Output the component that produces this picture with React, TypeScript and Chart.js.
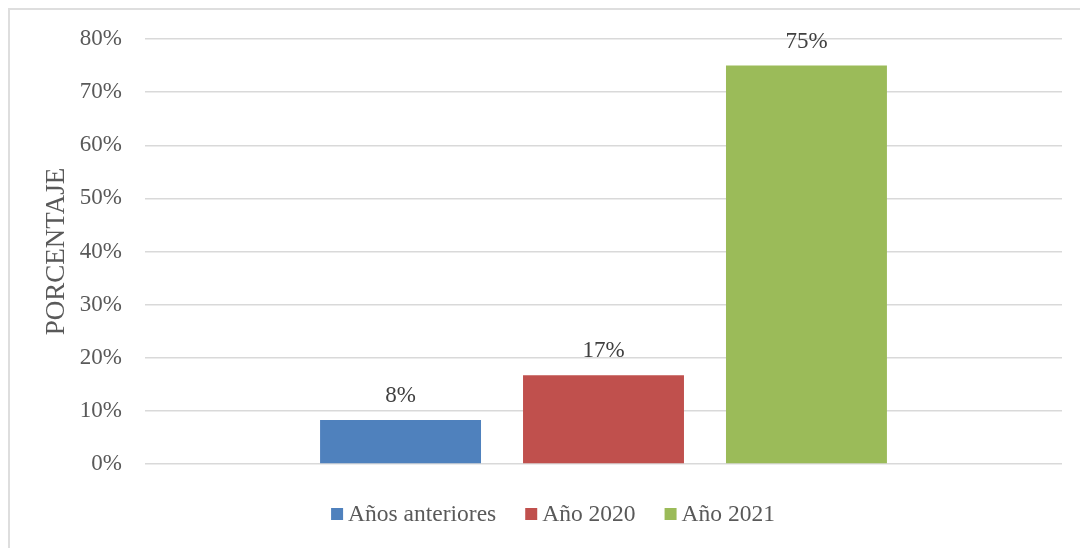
import React, { useEffect, useRef } from "react";
import { Chart, registerables } from "chart.js";

Chart.register(...registerables);

const categories: string[] = [""];
const seriesNames: string[] = ["Años anteriores", "Año 2020", "Año 2021"];
const seriesValues: number[][] = [[8.3], [16.7], [75.0]];
const seriesColors: string[] = ["#4F81BD", "#C0504D", "#9BBB59"];
const yTicks = { min: 0, max: 80, step: 10 };
const yTitle = "PORCENTAJE";

const FONT = "'Liberation Serif', 'Times New Roman', serif";

const dataLabelPlugin = {
  id: "dataLabels",
  afterDatasetsDraw(chart: any) {
    const ctx = chart.ctx;
    ctx.save();
    ctx.font = `23px ${FONT}`;
    ctx.fillStyle = "#404040";
    ctx.textAlign = "center";
    ctx.textBaseline = "middle";
    chart.data.datasets.forEach((ds: any, i: number) => {
      const meta = chart.getDatasetMeta(i);
      meta.data.forEach((bar: any, j: number) => {
        const v = ds.data[j];
        ctx.fillText(Math.round(v) + "%", bar.x, bar.y - 24);
      });
    });
    ctx.restore();
  },
};

const legendPlugin = {
  id: "customLegend",
  afterDraw(chart: any) {
    const ctx = chart.ctx;
    ctx.save();
    ctx.font = `23.5px ${FONT}`;
    ctx.textBaseline = "middle";
    ctx.textAlign = "left";
    const box = 12;
    const gapBoxText = 5;
    const gapItems = 29;
    const items = chart.data.datasets.map((ds: any) => ({
      label: ds.label,
      color: ds.backgroundColor,
      w: ctx.measureText(ds.label).width,
    }));
    const total =
      items.reduce((s: number, it: any) => s + box + gapBoxText + it.w, 0) +
      gapItems * (items.length - 1);
    const cx = 543;
    const cy = 504;
    let x = cx - total / 2;
    items.forEach((it: any) => {
      ctx.fillStyle = it.color;
      ctx.fillRect(x, cy - box / 2, box, box);
      x += box + gapBoxText;
      ctx.fillStyle = "#595959";
      ctx.fillText(it.label, x, cy + 1);
      x += it.w + gapItems;
    });
    ctx.restore();
  },
};

export default function App() {
  const ref = useRef<HTMLCanvasElement | null>(null);

  useEffect(() => {
    document.documentElement.style.overflow = "hidden";
    if (!ref.current) return;
    const chart = new Chart(ref.current, {
      type: "bar",
      data: {
        labels: categories,
        datasets: seriesNames.map((name, i) => ({
          label: name,
          data: seriesValues[i],
          backgroundColor: seriesColors[i],
          borderWidth: 0,
          categoryPercentage: 0.664,
          barPercentage: 0.793,
        })),
      },
      options: {
        responsive: false,
        animation: false,
        layout: { padding: { top: 29, bottom: 84, right: 26, left: 0 } },
        plugins: {
          legend: { display: false },
          tooltip: { enabled: false },
        },
        scales: {
          x: {
            display: false,
          },
          y: {
            min: yTicks.min,
            max: yTicks.max,
            ticks: {
              stepSize: yTicks.step,
              padding: 23,
              color: "#595959",
              font: { family: FONT, size: 23 },
              callback: (v: any) => v + "%",
            },
            grid: {
              color: "#d9d9d9",
              lineWidth: 1.5,
              drawTicks: false,
            },
            border: { display: false },
            title: {
              display: true,
              text: yTitle,
              color: "#595959",
              font: { family: FONT, size: 27 },
              padding: { top: 31, bottom: 0 },
            },
            afterFit: (s: any) => {
              s.width = 135;
              s.paddingTop = 0;
              s.paddingBottom = 0;
            },
          },
        },
      },
      plugins: [dataLabelPlugin, legendPlugin],
    });
    return () => chart.destroy();
  }, []);

  return (
    <div
      style={{
        width: 1078,
        height: 538,
        borderLeft: "2px solid #dedede",
        borderTop: "2px solid #dedede",
        overflow: "hidden",
        background: "#fff",
      }}
    >
      <canvas ref={ref} width={1078} height={538} style={{ display: "block" }} />
    </div>
  );
}
